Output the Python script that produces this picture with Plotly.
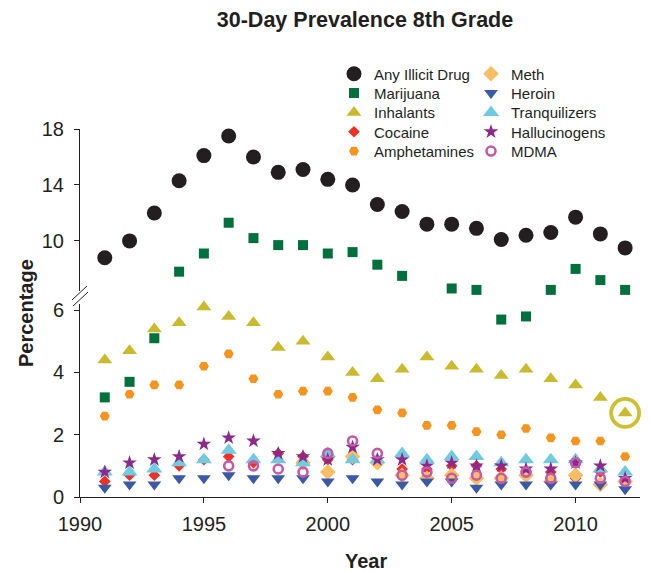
import plotly.graph_objects as go

# ---------------- data ----------------
years = list(range(1991, 2013))
any_illicit = [8.8, 10.0, 12.0, 14.3, 16.1, 17.5, 16.0, 14.9, 15.1, 14.4, 14.0,
               12.6, 12.1, 11.2, 11.2, 10.9, 10.1, 10.4, 10.6, 11.7, 10.5, 9.5]
marijuana = [3.2, 3.7, 5.1, 7.8, 9.1, 11.3, 10.2, 9.7, 9.7, 9.1, 9.2,
             8.3, 7.5, 6.4, 6.6, 6.5, 5.7, 5.8, 6.5, 8.0, 7.2, 6.5]
inhalants = [4.4, 4.7, 5.4, 5.6, 6.1, 5.8, 5.6, 4.8, 5.0, 4.5, 4.0,
             3.8, 4.1, 4.5, 4.2, 4.1, 3.9, 4.1, 3.8, 3.6, 3.2, 2.7]
cocaine = [0.5, 0.7, 0.7, 1.0, 1.2, 1.3, 1.1, 1.4, 1.3, 1.2, 1.2,
           1.1, 0.9, 0.9, 1.0, 1.0, 0.9, 0.8, 0.8, 0.6, 0.8, 0.5]
amphetamines = [2.6, 3.3, 3.6, 3.6, 4.2, 4.6, 3.8, 3.3, 3.4, 3.4, 3.2,
                2.8, 2.7, 2.3, 2.3, 2.1, 2.0, 2.2, 1.9, 1.8, 1.8, 1.3]
meth_years = list(range(1999, 2013))
meth = [1.1, 0.8, 1.3, 1.1, 0.7, 0.6, 0.7, 0.6, 0.6, 0.7, 0.5, 0.7, 0.4, 0.5]
heroin = [0.3, 0.4, 0.4, 0.6, 0.6, 0.7, 0.6, 0.6, 0.6, 0.5, 0.6,
          0.5, 0.4, 0.5, 0.5, 0.3, 0.4, 0.4, 0.4, 0.4, 0.4, 0.25]
tranquilizers = [0.8, 0.8, 0.9, 1.1, 1.2, 1.5, 1.2, 1.2, 1.1, 1.4, 1.2,
                 1.2, 1.4, 1.2, 1.3, 1.3, 1.1, 1.2, 1.2, 1.2, 0.9, 0.8]
hallucinogens = [0.8, 1.1, 1.2, 1.3, 1.7, 1.9, 1.8, 1.4, 1.3, 1.2, 1.6,
                 1.2, 1.2, 1.0, 1.1, 1.0, 1.0, 0.9, 0.9, 1.1, 1.0, 0.6]
mdma_years = list(range(1996, 2013))
mdma = [1.0, 1.0, 0.9, 0.8, 1.4, 1.8, 1.4, 0.7, 0.8, 0.6, 0.7, 0.6, 0.8, 0.6, 1.1, 0.6, 0.5]

highlight_year = 2012  # circled inhalants point

x_ticks = [1990, 1995, 2000, 2005, 2010]
y_ticks_low = [0, 2, 4, 6]
y_ticks_high = [10, 14, 18]
BREAK = 6.3  # values above go on the upper (compressed) axis segment

# ---------------- geometry (page pixels; page body has an 8px margin) ----------------
OFF = 8
W, H = 641, 564
L, R, T, B = 72, 9, 121, 75
PW, PH = W - L - R, H - T - B


def px_x(p):
    return (p - OFF - L) / PW


def px_y(p):
    return (H - B - (p - OFF)) / PH


FONT = "Liberation Sans, Arial, Helvetica, sans-serif"
TXT = "#231f20"

fig = go.Figure()

# legend slots: (column left edge, row centre) in page pixels
col1, col2 = 334, 471
rows = [74, 93.3, 112.7, 132, 151.3]
legend_slots = [(col1, r) for r in rows] + [(col2, r) for r in rows]
legend_names = ["legend"] + ["legend%d" % i for i in range(2, 11)]


def add(name, xs, ys, symbol, color, size, slot, line=None, upper=False, showlegend=True):
    fig.add_trace(go.Scatter(
        x=xs, y=ys, mode="markers", name=name,
        yaxis="y2" if upper else "y",
        legend=legend_names[slot], showlegend=showlegend,
        cliponaxis=False,
        marker=dict(symbol=symbol, color=color, size=size,
                    line=line or dict(width=0)),
    ))


mj_hi = [v if v > BREAK else None for v in marijuana]
mj_lo = [v if v <= BREAK else None for v in marijuana]

add("Any Illicit Drug", years, any_illicit, "circle", "#231f20", 15, 0, upper=True)
add("Marijuana", years, mj_hi, "square", "#00703c", 10, 1, upper=True)
add("Marijuana", years, mj_lo, "square", "#00703c", 10, 1, showlegend=False)
add("Inhalants", years, inhalants, "triangle-up", "#c9bb2d", 13, 2)
add("Cocaine", years, cocaine, "diamond", "#ee3124", 9, 3)
add("Amphetamines", years, amphetamines, "hexagon2", "#f7941d", 10, 4)
add("Meth", meth_years, meth, "diamond", "#f9bd63", 12, 5)
add("Heroin", years, heroin, "triangle-down", "#3a5aa7", 12, 6)
add("Tranquilizers", years, tranquilizers, "triangle-up", "#6fcbdf", 14, 7)
add("Hallucinogens", years, hallucinogens, "star", "#8c2a8c", 11, 8)
add("MDMA", mdma_years, mdma, "circle-open", "#c45aa8", 9, 9,
    line=dict(width=2.6, color="#c45aa8"))

# highlight ring around the circled inhalants point
hi_idx = years.index(highlight_year)
fig.add_trace(go.Scatter(
    x=[years[hi_idx]], y=[inhalants[hi_idx]], mode="markers", showlegend=False,
    cliponaxis=False, hoverinfo="skip",
    marker=dict(symbol="circle-open", size=28, color="#cdc130",
                line=dict(width=3.8, color="#cdc130")),
))

axis_common = dict(showline=True, linecolor=TXT, linewidth=1, ticks="outside",
                   ticklen=5, tickcolor=TXT, showgrid=False, zeroline=False,
                   tickfont=dict(family=FONT, size=20, color=TXT))

legends = {}
for name, (lx, ly) in zip(legend_names, legend_slots):
    legends[name] = dict(x=px_x(lx), y=px_y(ly), xanchor="left", yanchor="middle",
                         bgcolor="rgba(0,0,0,0)",
                         font=dict(family=FONT, size=15, color=TXT))

fig.update_layout(
    width=W, height=H,
    margin=dict(l=L, r=R, t=T, b=B),
    paper_bgcolor="white", plot_bgcolor="white",
    font=dict(family=FONT, color=TXT),
    title=dict(text="30-Day Prevalence 8th Grade", x=(365 - OFF) / W, xanchor="center",
               y=1 - (19 - OFF) / H, yanchor="middle",
               font=dict(family=FONT, size=21.5, color=TXT, weight="bold")),
    xaxis=dict(range=[1990, 2012.6], tickvals=x_ticks, ticklabelstandoff=4, **axis_common),
    yaxis=dict(domain=[0, px_y(304)], range=[0, 6.2], tickvals=y_ticks_low,
               ticklabelstandoff=6, **axis_common),
    yaxis2=dict(domain=[px_y(291), 1], range=[6.42, 18], tickvals=y_ticks_high,
                anchor="x", ticklabelstandoff=6, **axis_common),
    annotations=[
        dict(text="<b>Percentage</b>", x=px_x(26), y=0.5, xref="paper", yref="paper",
             textangle=-90, showarrow=False, xanchor="center", yanchor="middle",
             font=dict(family=FONT, size=20, color=TXT)),
        dict(text="<b>Year</b>", x=px_x(366), y=px_y(561), xref="paper", yref="paper",
             showarrow=False, xanchor="center", yanchor="middle",
             font=dict(family=FONT, size=20, color=TXT)),
    ],
    shapes=[
        dict(type="line", xref="paper", yref="paper",
             x0=px_x(72), y0=px_y(300), x1=px_x(87), y1=px_y(286),
             line=dict(color=TXT, width=1)),
        dict(type="line", xref="paper", yref="paper",
             x0=px_x(73), y0=px_y(306), x1=px_x(88), y1=px_y(292),
             line=dict(color=TXT, width=1)),
    ],
    **legends,
)

fig.write_html("out.html")
